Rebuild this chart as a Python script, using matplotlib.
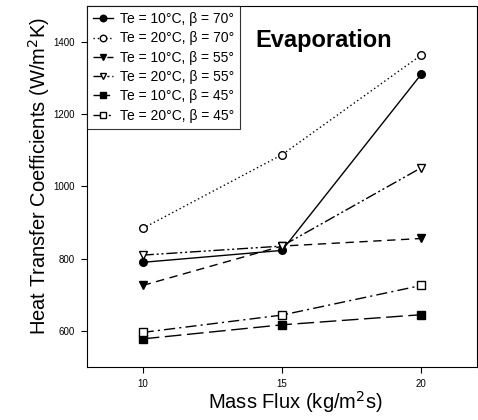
import matplotlib
matplotlib.use("Agg")
import matplotlib.pyplot as plt

plt.rcParams['font.family'] = ['Liberation Sans', 'DejaVu Sans']

mass_flux = [10, 15, 20]
te10_b70 = [790, 823, 1311]
te20_b70 = [884, 1088, 1364]
te10_b55 = [726, 835, 856]
te20_b55 = [810, 835, 1052]
te10_b45 = [578, 617, 645]
te20_b45 = [596, 644, 726]

labels = ['Te = 10°C, β = 70°', 'Te = 20°C, β = 70°',
          'Te = 10°C, β = 55°', 'Te = 20°C, β = 55°',
          'Te = 10°C, β = 45°', 'Te = 20°C, β = 45°']

fig = plt.figure(figsize=(4.78, 4.2), dpi=100)
ax = fig.add_axes([0.182, 0.126, 0.816, 0.86])

k = dict(color='black', lw=1.0, ms=5.5, mec='black')
ax.plot(mass_flux, te10_b70, marker='o', ls='-', mfc='black', label=labels[0], **k)
ax.plot(mass_flux, te20_b70, marker='o', ls=(0, (1, 2)), mfc='white', label=labels[1], **k)
ax.plot(mass_flux, te10_b55, marker='v', ls=(0, (6, 4)), mfc='black', label=labels[2], **k)
ax.plot(mass_flux, te20_b55, marker='v', ls=(0, (8, 2, 1.5, 2, 1.5, 2)), mfc='white', label=labels[3], **k)
ax.plot(mass_flux, te10_b45, marker='s', ls=(0, (12, 4)), mfc='black', label=labels[4], **k)
ax.plot(mass_flux, te20_b45, marker='s', ls=(0, (8, 3, 1.5, 3)), mfc='white', label=labels[5], **k)

ax.set_xlim(8, 22)
ax.set_ylim(500, 1500)
ax.set_xticks([10, 15, 20])
ax.set_yticks([600, 800, 1000, 1200, 1400])
ax.tick_params(direction='out', labelsize=7, length=4, pad=4.5)
ax.set_xlabel('Mass Flux (kg/m$^{\\rm 2}$s)', fontsize=14.5)
ax.set_ylabel('Heat Transfer Coefficients (W/m$^{\\rm 2}$K)', fontsize=14.5)
ax.xaxis.set_label_coords(0.533, -0.062)
ax.yaxis.set_label_coords(-0.09, 0.53)
ax.text(16.5, 1405, 'Evaporation', fontsize=17, fontweight='bold', ha='center', va='center')

leg = ax.legend(loc='upper left', fontsize=10, handlelength=1.4, frameon=True, fancybox=False,
                edgecolor='black', borderaxespad=0, labelspacing=0.38, handletextpad=0.5,
                borderpad=0.45, markerscale=0.85)
leg.get_frame().set_linewidth(0.8)

fig.savefig('out.png', dpi=100)
